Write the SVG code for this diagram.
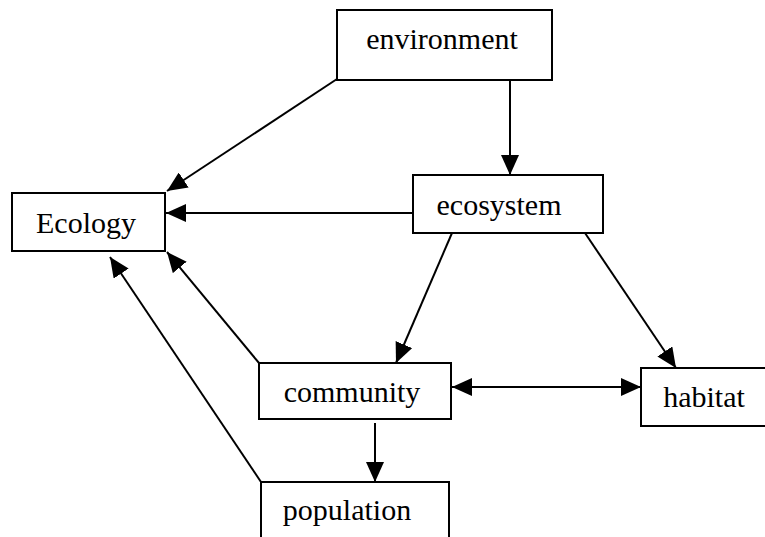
<svg xmlns="http://www.w3.org/2000/svg" width="765" height="537" viewBox="0 0 765 537">
<style>
.box{fill:#fff;stroke:#000;stroke-width:2}
.lbl{font-family:"Liberation Serif","Times New Roman",serif;font-size:30px;fill:#000}
.edge{stroke:#000;stroke-width:2;fill:none}
</style>
<defs>
<marker id="ah" viewBox="0 0 20 18" refX="20" refY="9" markerWidth="20" markerHeight="18" markerUnits="userSpaceOnUse" orient="auto-start-reverse">
<path d="M0,0 L20,9 L0,18 Z" fill="#000"/>
</marker>
</defs>
<rect width="765" height="537" fill="#fff"/>
<g id="connectors">
<line class="edge" x1="337" y1="79" x2="167" y2="191" marker-end="url(#ah)"/>
<line class="edge" x1="510" y1="80" x2="510" y2="175" marker-end="url(#ah)"/>
<line class="edge" x1="413" y1="213" x2="166" y2="213" marker-end="url(#ah)"/>
<line class="edge" x1="452" y1="233" x2="396" y2="363" marker-end="url(#ah)"/>
<line class="edge" x1="585" y1="233" x2="676" y2="368" marker-end="url(#ah)"/>
<line class="edge" x1="259" y1="363" x2="167" y2="252" marker-end="url(#ah)"/>
<line class="edge" x1="261" y1="482" x2="110" y2="257" marker-end="url(#ah)"/>
<line class="edge" x1="452" y1="387" x2="641" y2="387" marker-start="url(#ah)" marker-end="url(#ah)"/>
<line class="edge" x1="375" y1="423" x2="375" y2="482" marker-end="url(#ah)"/>
</g>
<g id="environment"><rect class="box" x="337" y="10" width="215" height="70"/><text class="lbl" x="442" y="49" text-anchor="middle">environment</text></g>
<g id="ecology"><rect class="box" x="12" y="193" width="153" height="58"/><text class="lbl" x="86" y="233" text-anchor="middle">Ecology</text></g>
<g id="ecosystem"><rect class="box" x="413" y="175" width="190" height="58"/><text class="lbl" x="499" y="215" text-anchor="middle">ecosystem</text></g>
<g id="community"><rect class="box" x="259" y="363" width="192" height="56"/><text class="lbl" x="352" y="402" text-anchor="middle">community</text></g>
<g id="habitat"><rect class="box" x="641" y="368" width="140" height="58"/><text class="lbl" x="704" y="407" text-anchor="middle">habitat</text></g>
<g id="population"><rect class="box" x="261" y="482" width="188" height="60"/><text class="lbl" x="347" y="520" text-anchor="middle">population</text></g>
</svg>
